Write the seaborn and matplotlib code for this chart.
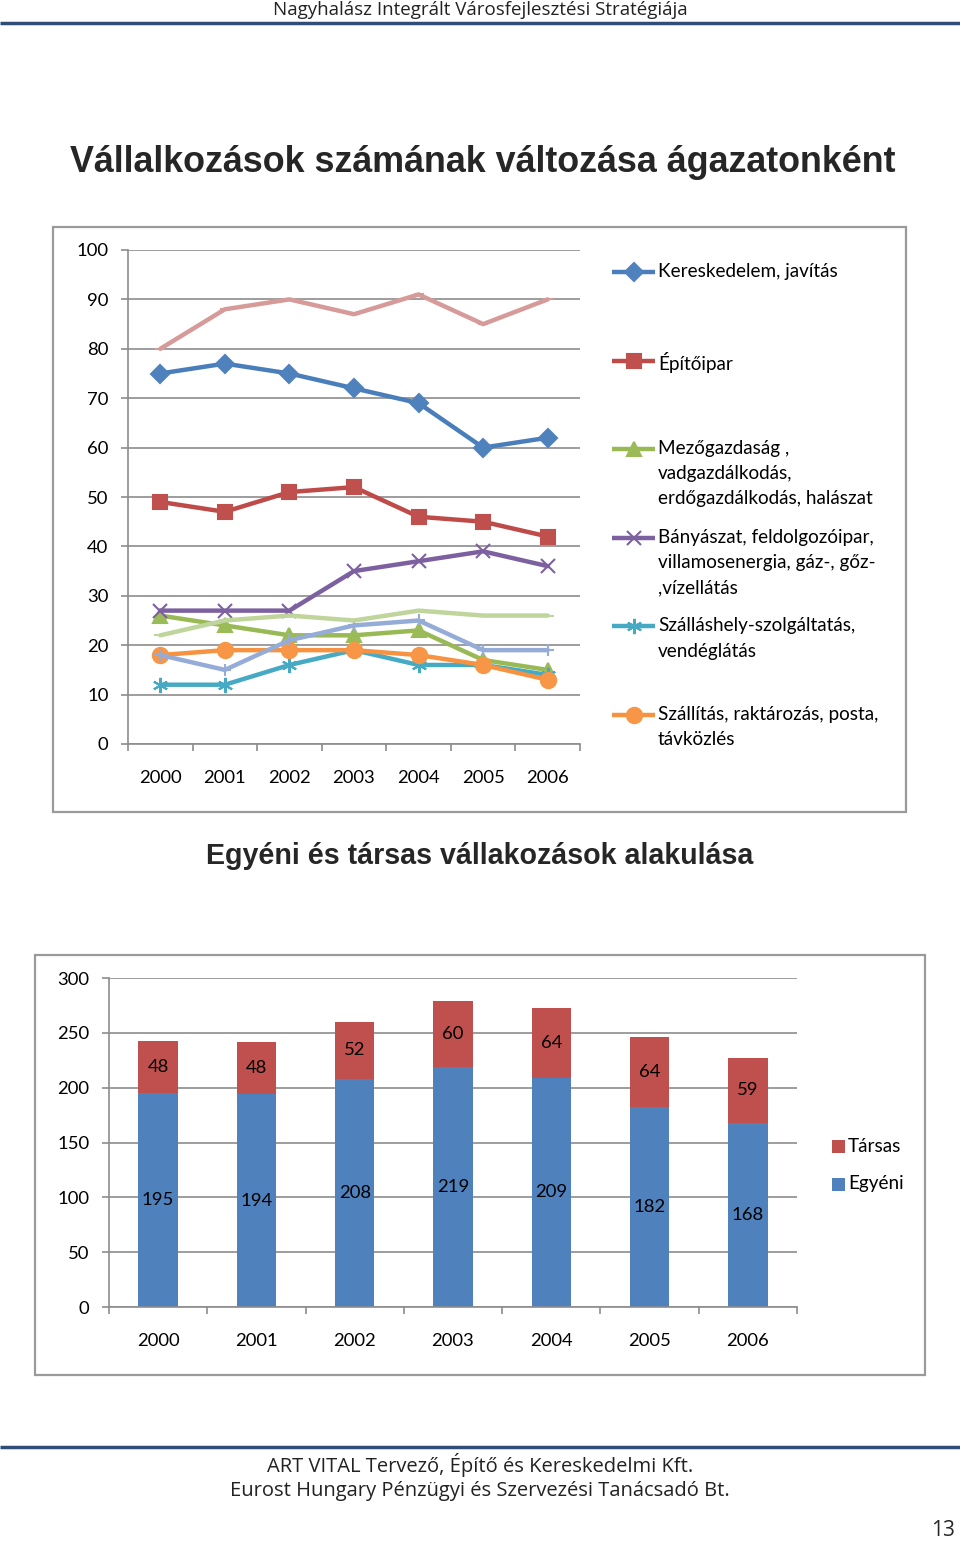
import numpy as np
import matplotlib
matplotlib.use('Agg')
import matplotlib.pyplot as plt
from matplotlib.patches import Rectangle
import seaborn as sns

# ── Data ───────────────────────────────────────────────────────────────────────
years = ['2000', '2001', '2002', '2003', '2004', '2005', '2006']

kereskedelem = [75, 77, 75, 72, 69, 60, 62]
epitoipar    = [49, 47, 51, 52, 46, 45, 42]
mezogazdasag = [26, 24, 22, 22, 23, 17, 15]
banyaszat    = [27, 27, 27, 35, 37, 39, 36]
szallashely  = [12, 12, 16, 19, 16, 16, 14]
szallitas    = [18, 19, 19, 19, 18, 16, 13]
# three more series in the chart that have no legend entry
extra_blue   = [18, 15, 21, 24, 25, 19, 19]
extra_pink   = [80, 88, 90, 87, 91, 85, 90]
extra_green  = [22, 25, 26, 25, 27, 26, 26]

sector_labels = [
    'Kereskedelem, javítás',
    'Építőipar',
    'Mezőgazdaság ,\nvadgazdálkodás,\nerdőgazdálkodás, halászat',
    'Bányászat, feldolgozóipar,\nvillamosenergia, gáz-, gőz-\n,vízellátás',
    'Szálláshely-szolgáltatás,\nvendéglátás',
    'Szállítás, raktározás, posta,\ntávközlés',
]

egyeni = [195, 194, 208, 219, 209, 182, 168]
tarsas = [48, 48, 52, 60, 64, 64, 59]

# ── Style ──────────────────────────────────────────────────────────────────────
sns.set_style('white')
plt.rcParams['font.family'] = ['Lato', 'DejaVu Sans']

GRID = '#8c8c8c'
RULE = '#2f4d78'
TXT = '#000000'
FS = 13.3
LEG_FS = 13.6
PAGE_FONT = ['Open Sans', 'DejaVu Sans']

# (line colour, marker fill, marker, marker size)
main_styles = [
    ('#4a7ebb', '#4f81bd', 'D', 9),
    ('#be4b48', '#c0504d', 's', 10),
    ('#98b954', '#9bbb59', '^', 10),
    ('#7d60a0', '#7d60a0', 'x', 10),
    ('#46aac5', '#46aac5', (6, 2, 0), 11),
    ('#f69240', '#f79646', 'o', 11),
]
extra_styles = [
    ('#95acd8', '+', 8),
    ('#d69a98', '_', 7),
    ('#bfd59c', '_', 9),
]

fig = plt.figure(figsize=(9.6, 15.43), dpi=100)

# full-page overlay in pixel coordinates for page furniture
ov = fig.add_axes([0, 0, 1, 1], zorder=0)
ov.set_xlim(0, 960)
ov.set_ylim(1543, 0)
ov.axis('off')

ov.text(480, 10, 'Nagyhalász Integrált Városfejlesztési Stratégiája',
        ha='center', va='center', fontsize=13.5, family=PAGE_FONT, color='#222222')
ov.plot([0, 960], [23, 23], color=RULE, lw=2.5, solid_capstyle='butt')

ov.text(483, 162, 'Vállalkozások számának változása ágazatonként',
        ha='center', va='center', fontsize=25.8, fontweight='bold',
        family=['Liberation Sans'])
ov.text(480, 856, 'Egyéni és társas vállakozások alakulása',
        ha='center', va='center', fontsize=20.6, fontweight='bold',
        family=['Liberation Sans'])

ov.add_patch(Rectangle((53, 227), 853, 585, fill=False, ec='#9a9a9a', lw=1.6))
ov.add_patch(Rectangle((35, 955), 890, 420, fill=False, ec='#9a9a9a', lw=1.6))

ov.plot([0, 960], [1447, 1447], color=RULE, lw=2.5, solid_capstyle='butt')
ov.text(480, 1465, 'ART VITAL Tervező, Építő és Kereskedelmi Kft.',
        ha='center', va='center', fontsize=14.5, family=PAGE_FONT, color='#222222')
ov.text(480, 1491, 'Eurost Hungary Pénzügyi és Szervezési Tanácsadó Bt.',
        ha='center', va='center', fontsize=14.5, family=PAGE_FONT, color='#222222')
ov.text(943, 1530, '13', ha='center', va='center', fontsize=15, family=PAGE_FONT)


def style_axes(ax, ymax, ystep):
    ax.set_facecolor('none')
    ax.set_ylim(0, ymax)
    ax.set_xlim(-0.5, 6.5)
    ax.set_yticks(np.arange(0, ymax + 1, ystep))
    ax.yaxis.grid(True, color=GRID, lw=1.2)
    ax.set_axisbelow(True)
    for side in ['top', 'right']:
        ax.spines[side].set_visible(False)
    for side in ['left', 'bottom']:
        ax.spines[side].set_color(GRID)
        ax.spines[side].set_linewidth(1.2)
    ax.set_xticks(np.arange(-0.5, 7, 1))
    ax.set_xticklabels([])
    ax.set_xticks(np.arange(7), minor=True)
    ax.set_xticklabels(years, minor=True)
    ax.tick_params(axis='x', which='major', direction='out', length=5,
                   color=GRID, width=1.2, bottom=True)
    ax.tick_params(axis='x', which='minor', length=0, pad=18.5, labelsize=FS,
                   labelcolor=TXT)
    ax.tick_params(axis='y', direction='out', length=5, color=GRID, width=1.2,
                   left=True, pad=9, labelsize=FS, labelcolor=TXT)
    ax.set_xlabel('')
    ax.set_ylabel('')


# ── Line chart ─────────────────────────────────────────────────────────────────
ax1 = fig.add_axes([128 / 960, 1 - 744 / 1543, 452 / 960, 494 / 1543], zorder=2)
xpos = np.arange(len(years))

main_series = [kereskedelem, epitoipar, mezogazdasag, banyaszat, szallashely, szallitas]
for vals, (lc, mc, mk, ms) in zip(main_series, main_styles):
    sns.lineplot(x=xpos, y=vals, ax=ax1, color=lc, lw=3.2, marker=mk, markersize=ms,
                 markerfacecolor=mc, markeredgecolor=mc, markeredgewidth=1.5,
                 estimator=None)
for vals, (lc, mk, ms) in zip([extra_blue, extra_pink, extra_green], extra_styles):
    sns.lineplot(x=xpos, y=vals, ax=ax1, color=lc, lw=3.2, marker=mk, markersize=ms,
                 markeredgecolor=lc, markeredgewidth=1.5, estimator=None)
style_axes(ax1, 100, 10)

# legend for the line chart (first line of each entry on an even step)
for i, (label, (lc, mc, mk, ms)) in enumerate(zip(sector_labels, main_styles)):
    y0 = 272 + i * 88.6
    ov.plot([612, 655], [y0, y0], color=lc, lw=3.2, solid_capstyle='butt')
    ov.plot([633.5], [y0], marker=mk, markersize=ms, color=mc,
            markeredgecolor=mc, markeredgewidth=1.5)
    ov.text(658, y0 - 9, label, ha='left', va='top', fontsize=LEG_FS,
            linespacing=1.58, color=TXT)

# ── Stacked bar chart ──────────────────────────────────────────────────────────
ax2 = fig.add_axes([109 / 960, 1 - 1307 / 1543, 688 / 960, 329 / 1543], zorder=2)
totals = np.array(egyeni) + np.array(tarsas)
sns.barplot(x=years, y=totals, ax=ax2, color='#c0504d', saturation=1,
            width=0.4, linewidth=0)
sns.barplot(x=years, y=egyeni, ax=ax2, color='#4f81bd', saturation=1,
            width=0.4, linewidth=0)
style_axes(ax2, 300, 50)

for i, (e, t) in enumerate(zip(egyeni, tarsas)):
    ax2.text(i, e / 2, str(e), ha='center', va='center', fontsize=FS, color=TXT)
    ax2.text(i, e + t / 2, str(t), ha='center', va='center', fontsize=FS, color=TXT)

for y0, label, col in [(1146, 'Társas', '#c0504d'), (1184, 'Egyéni', '#4f81bd')]:
    ov.add_patch(Rectangle((832, y0 - 6.5), 13, 13, color=col, lw=0))
    ov.text(848, y0, label, ha='left', va='center', fontsize=LEG_FS, color=TXT)

fig.savefig('out.png', dpi=100)
